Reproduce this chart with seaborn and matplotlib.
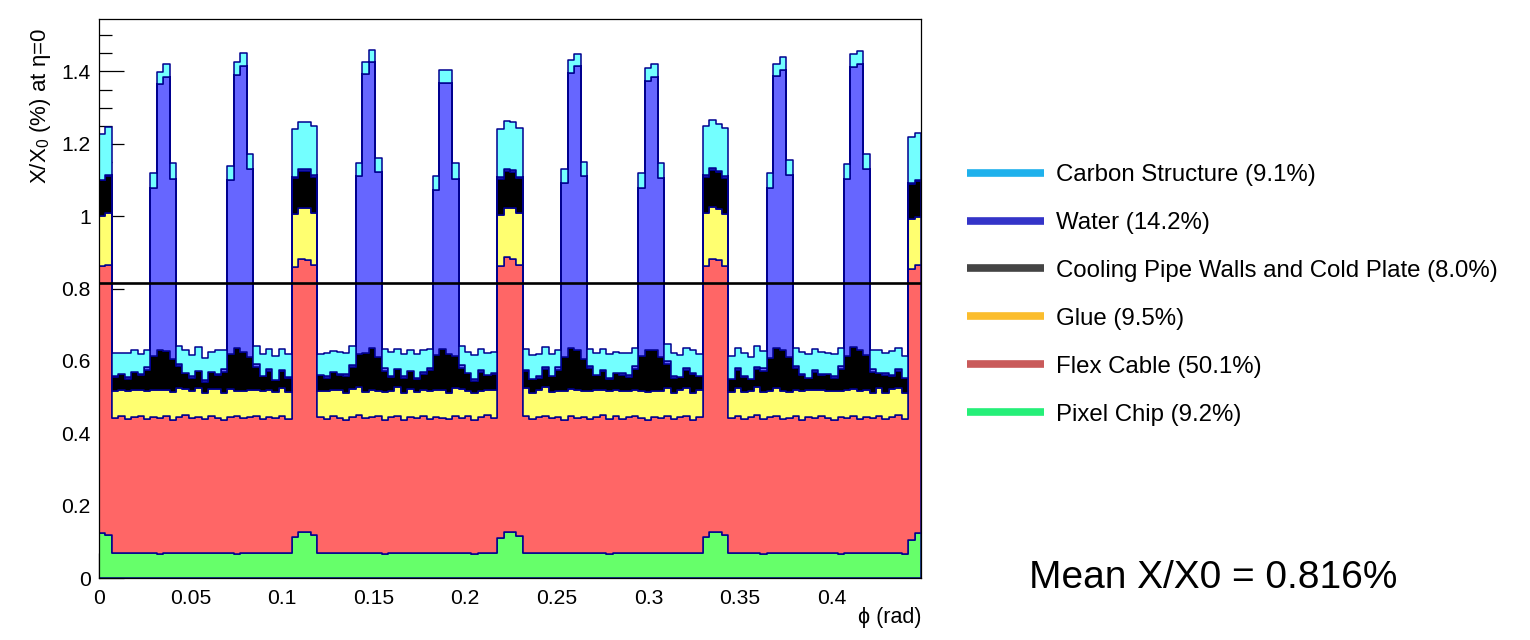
import numpy as np
import pandas as pd
import seaborn as sns
import matplotlib.pyplot as plt
from matplotlib.lines import Line2D
from matplotlib.ticker import MultipleLocator, FuncFormatter

sns.set_style("ticks")
plt.rcParams['font.family'] = ['Liberation Sans', 'DejaVu Sans']
plt.rcParams['mathtext.fontset'] = 'custom'
plt.rcParams['mathtext.rm'] = 'Liberation Sans'
plt.rcParams['text.color'] = 'black'
plt.rcParams['axes.labelcolor'] = 'black'

# ======================
# data: X/X0 (%) per material, 128 phi bins from 0 to 2pi/14 (4 modules of 32 bins)

PHI_MAX = 0.4488
MEAN_X0 = 0.816

pixel_chip = [
    0.125, 0.118, 0.069, 0.069, 0.069, 0.069, 0.069, 0.069,
    0.069, 0.067, 0.069, 0.069, 0.069, 0.069, 0.069, 0.069,
    0.069, 0.069, 0.069, 0.069, 0.069, 0.067, 0.069, 0.069,
    0.069, 0.069, 0.069, 0.069, 0.069, 0.069, 0.112, 0.127,
    0.128, 0.118, 0.069, 0.069, 0.069, 0.069, 0.069, 0.069,
    0.069, 0.069, 0.069, 0.069, 0.067, 0.069, 0.069, 0.069,
    0.069, 0.069, 0.069, 0.069, 0.069, 0.069, 0.069, 0.069,
    0.069, 0.069, 0.067, 0.069, 0.069, 0.069, 0.110, 0.128,
    0.128, 0.116, 0.069, 0.069, 0.069, 0.069, 0.069, 0.069,
    0.069, 0.069, 0.069, 0.069, 0.069, 0.069, 0.069, 0.067,
    0.069, 0.069, 0.069, 0.069, 0.069, 0.069, 0.069, 0.069,
    0.069, 0.069, 0.069, 0.069, 0.069, 0.069, 0.112, 0.128,
    0.128, 0.118, 0.069, 0.069, 0.069, 0.069, 0.069, 0.067,
    0.069, 0.069, 0.069, 0.069, 0.069, 0.069, 0.069, 0.069,
    0.069, 0.069, 0.069, 0.067, 0.069, 0.069, 0.069, 0.069,
    0.069, 0.069, 0.069, 0.069, 0.069, 0.067, 0.104, 0.125,
]

flex_cable = [
    0.738, 0.748, 0.372, 0.378, 0.370, 0.376, 0.380, 0.371,
    0.377, 0.374, 0.379, 0.369, 0.375, 0.381, 0.373, 0.377,
    0.370, 0.379, 0.374, 0.368, 0.377, 0.381, 0.372, 0.376,
    0.379, 0.371, 0.376, 0.373, 0.380, 0.370, 0.748, 0.755,
    0.752, 0.746, 0.375, 0.370, 0.379, 0.374, 0.368, 0.377,
    0.381, 0.372, 0.376, 0.378, 0.371, 0.375, 0.380, 0.369,
    0.376, 0.373, 0.379, 0.371, 0.377, 0.374, 0.370, 0.380,
    0.373, 0.378, 0.369, 0.376, 0.381, 0.372, 0.752, 0.758,
    0.755, 0.748, 0.378, 0.371, 0.376, 0.380, 0.372, 0.375,
    0.369, 0.379, 0.374, 0.377, 0.370, 0.376, 0.381, 0.373,
    0.378, 0.370, 0.375, 0.379, 0.372, 0.368, 0.377, 0.374,
    0.380, 0.371, 0.376, 0.378, 0.369, 0.375, 0.750, 0.755,
    0.752, 0.745, 0.373, 0.379, 0.370, 0.376, 0.381, 0.372,
    0.375, 0.378, 0.371, 0.374, 0.380, 0.369, 0.376, 0.373,
    0.379, 0.372, 0.368, 0.377, 0.374, 0.380, 0.371, 0.376,
    0.373, 0.378, 0.370, 0.375, 0.381, 0.372, 0.750, 0.740,
]

glue = [
    0.138, 0.142, 0.076, 0.072, 0.079, 0.074, 0.070, 0.077,
    0.073, 0.078, 0.071, 0.076, 0.080, 0.072, 0.075, 0.078,
    0.071, 0.074, 0.079, 0.073, 0.076, 0.070, 0.077, 0.074,
    0.072, 0.078, 0.075, 0.071, 0.077, 0.074, 0.145, 0.140,
    0.142, 0.146, 0.074, 0.079, 0.071, 0.077, 0.073, 0.076,
    0.078, 0.072, 0.075, 0.070, 0.077, 0.074, 0.079, 0.072,
    0.076, 0.073, 0.071, 0.078, 0.074, 0.077, 0.072, 0.075,
    0.079, 0.071, 0.076, 0.073, 0.070, 0.078, 0.142, 0.138,
    0.140, 0.145, 0.077, 0.071, 0.075, 0.078, 0.072, 0.074,
    0.079, 0.073, 0.076, 0.071, 0.078, 0.075, 0.070, 0.077,
    0.073, 0.079, 0.074, 0.071, 0.076, 0.078, 0.072, 0.075,
    0.077, 0.070, 0.074, 0.079, 0.073, 0.076, 0.146, 0.142,
    0.139, 0.144, 0.072, 0.078, 0.074, 0.071, 0.077, 0.075,
    0.073, 0.079, 0.076, 0.072, 0.070, 0.078, 0.074, 0.077,
    0.071, 0.075, 0.079, 0.073, 0.076, 0.072, 0.078, 0.074,
    0.070, 0.077, 0.073, 0.079, 0.075, 0.072, 0.138, 0.132,
]

cooling = [
    0.098, 0.102, 0.038, 0.045, 0.032, 0.050, 0.041, 0.058,
    0.095, 0.112, 0.108, 0.090, 0.062, 0.044, 0.036, 0.049,
    0.033, 0.047, 0.040, 0.060, 0.098, 0.118, 0.106, 0.092,
    0.064, 0.041, 0.052, 0.035, 0.046, 0.039, 0.100, 0.104,
    0.104, 0.098, 0.042, 0.034, 0.051, 0.040, 0.047, 0.061,
    0.092, 0.110, 0.115, 0.094, 0.058, 0.037, 0.049, 0.042,
    0.052, 0.036, 0.045, 0.057, 0.096, 0.112, 0.109, 0.090,
    0.060, 0.048, 0.033, 0.050, 0.040, 0.045, 0.098, 0.102,
    0.100, 0.096, 0.047, 0.039, 0.033, 0.052, 0.044, 0.056,
    0.094, 0.116, 0.110, 0.088, 0.063, 0.040, 0.051, 0.034,
    0.046, 0.043, 0.038, 0.059, 0.097, 0.114, 0.111, 0.093,
    0.066, 0.044, 0.037, 0.049, 0.053, 0.038, 0.101, 0.104,
    0.102, 0.099, 0.036, 0.048, 0.043, 0.035, 0.050, 0.059,
    0.090, 0.109, 0.113, 0.095, 0.061, 0.046, 0.034, 0.051,
    0.041, 0.049, 0.037, 0.062, 0.095, 0.117, 0.112, 0.096,
    0.058, 0.043, 0.050, 0.036, 0.047, 0.042, 0.096, 0.100,
]

water = [
    0.000, 0.004, 0.003, 0.000, 0.006, 0.000, 0.004, 0.008,
    0.465, 0.733, 0.757, 0.500, 0.006, 0.000, 0.004, 0.000,
    0.005, 0.000, 0.003, 0.007, 0.480, 0.755, 0.790, 0.520,
    0.008, 0.000, 0.005, 0.000, 0.003, 0.004, 0.004, 0.005,
    0.004, 0.005, 0.000, 0.005, 0.000, 0.003, 0.006, 0.007,
    0.490, 0.770, 0.790, 0.510, 0.007, 0.004, 0.000, 0.005,
    0.000, 0.003, 0.005, 0.006, 0.455, 0.735, 0.748, 0.490,
    0.007, 0.000, 0.004, 0.006, 0.000, 0.003, 0.005, 0.005,
    0.005, 0.004, 0.003, 0.000, 0.005, 0.004, 0.000, 0.008,
    0.480, 0.760, 0.785, 0.505, 0.006, 0.000, 0.005, 0.003,
    0.000, 0.006, 0.004, 0.007, 0.465, 0.745, 0.757, 0.495,
    0.008, 0.004, 0.000, 0.005, 0.003, 0.000, 0.004, 0.005,
    0.005, 0.004, 0.000, 0.006, 0.003, 0.000, 0.005, 0.007,
    0.470, 0.752, 0.775, 0.505, 0.006, 0.003, 0.000, 0.005,
    0.004, 0.000, 0.006, 0.008, 0.490, 0.775, 0.792, 0.515,
    0.007, 0.000, 0.004, 0.003, 0.005, 0.000, 0.004, 0.004,
]

carbon = [
    0.128, 0.132, 0.064, 0.058, 0.067, 0.061, 0.055, 0.048,
    0.040, 0.035, 0.036, 0.042, 0.050, 0.063, 0.058, 0.066,
    0.060, 0.055, 0.064, 0.052, 0.038, 0.034, 0.036, 0.041,
    0.049, 0.061, 0.057, 0.066, 0.059, 0.063, 0.132, 0.130,
    0.130, 0.135, 0.060, 0.066, 0.057, 0.063, 0.059, 0.050,
    0.038, 0.034, 0.035, 0.040, 0.052, 0.065, 0.056, 0.062,
    0.058, 0.064, 0.060, 0.051, 0.041, 0.036, 0.035, 0.043,
    0.053, 0.059, 0.066, 0.058, 0.062, 0.057, 0.135, 0.132,
    0.131, 0.134, 0.058, 0.065, 0.061, 0.056, 0.063, 0.049,
    0.039, 0.035, 0.034, 0.041, 0.047, 0.062, 0.057, 0.066,
    0.060, 0.055, 0.063, 0.050, 0.040, 0.035, 0.036, 0.042,
    0.048, 0.064, 0.059, 0.056, 0.062, 0.060, 0.136, 0.133,
    0.130, 0.133, 0.063, 0.057, 0.064, 0.060, 0.058, 0.047,
    0.041, 0.034, 0.035, 0.040, 0.051, 0.060, 0.065, 0.057,
    0.062, 0.058, 0.061, 0.049, 0.039, 0.035, 0.034, 0.042,
    0.052, 0.063, 0.057, 0.065, 0.059, 0.061, 0.128, 0.130,
]

# top of the stack first, bottom last
materials = ['Carbon Structure', 'Water', 'Cooling Pipe Walls and Cold Plate',
             'Glue', 'Flex Cable', 'Pixel Chip']
shares = ['9.1%', '14.2%', '8.0%', '9.5%', '50.1%', '9.2%']
layers = [carbon, water, cooling, glue, flex_cable, pixel_chip]

fill_colors = ['#73ffff', '#6666ff', '#000000', '#ffff70', '#ff6666', '#66ff6a']
legend_colors = ['#1fb1ec', '#3434c8', '#444444', '#fbbd2d', '#c95a5a', '#25ef78']
EDGE = '#00008f'

# ======================
# long table for seaborn

edges = np.linspace(0, PHI_MAX, len(pixel_chip) + 1)
centres = edges[:-1] + np.diff(edges) / 2

df = pd.concat([pd.DataFrame({'phi': centres, 'x0': vals, 'material': name})
                for name, vals in zip(materials, layers)], ignore_index=True)

# ======================
# plot

fig = plt.figure(figsize=(15.3, 6.4), dpi=100)
ax = fig.add_axes([99 / 1530, 62 / 640, 822 / 1530, 559 / 640])

sns.histplot(data=df, x='phi', weights='x0', hue='material', hue_order=materials,
             multiple='stack', bins=edges.tolist(), element='step',
             palette=dict(zip(materials, fill_colors)), alpha=1,
             edgecolor=EDGE, linewidth=1.1, legend=False, ax=ax)

ax.axhline(MEAN_X0, color='black', linewidth=1.9, zorder=3)

ax.set_xlim(0, PHI_MAX)
ax.set_ylim(0, 1.545)
ax.set_axisbelow(True)

ax.xaxis.set_major_locator(MultipleLocator(0.05))
ax.xaxis.set_minor_locator(MultipleLocator(0.01))
ax.yaxis.set_major_locator(MultipleLocator(0.2))
ax.yaxis.set_minor_locator(MultipleLocator(0.05))
fmt = FuncFormatter(lambda v, p: '%g' % round(v, 3))
ax.xaxis.set_major_formatter(fmt)
ax.yaxis.set_major_formatter(fmt)

ax.tick_params(which='both', direction='in', top=False, right=False,
               width=0.9, colors='black', labelcolor='black', labelsize=15.2)
ax.tick_params(which='major', length=18)
ax.tick_params(which='minor', length=9)
ax.tick_params(axis='y', pad=6)
ax.tick_params(axis='x', pad=8)

for s in ax.spines.values():
    s.set_visible(True)
    s.set_color('black')
    s.set_linewidth(0.9)

ax.set_ylabel('X/X$_{0}$ (%) at η=0', fontsize=16, loc='top')
ax.yaxis.set_label_coords(-0.056, 0.983)
ax.set_xlabel('ϕ (rad)', fontsize=15.5, loc='right')
ax.xaxis.set_label_coords(1.0, -0.052)

# legend outside, ROOT style
handles = [Line2D([], [], color=c, linewidth=5.5, solid_capstyle='butt')
           for c in legend_colors]
labels = ['%s (%s)' % (m, s) for m, s in zip(materials, shares)]
fig.legend(handles, labels, loc='upper left', bbox_to_anchor=(967 / 1530, 1 - 164 / 640),
           frameon=False, fontsize=17.3, handlelength=3.2, handletextpad=0.5,
           labelspacing=1.08, borderpad=0, borderaxespad=0)

fig.text(1029 / 1530, 1 - 588 / 640, 'Mean X/X0 = 0.816%', fontsize=28,
         ha='left', va='baseline', color='black')

plt.savefig('out.png', dpi=100)
